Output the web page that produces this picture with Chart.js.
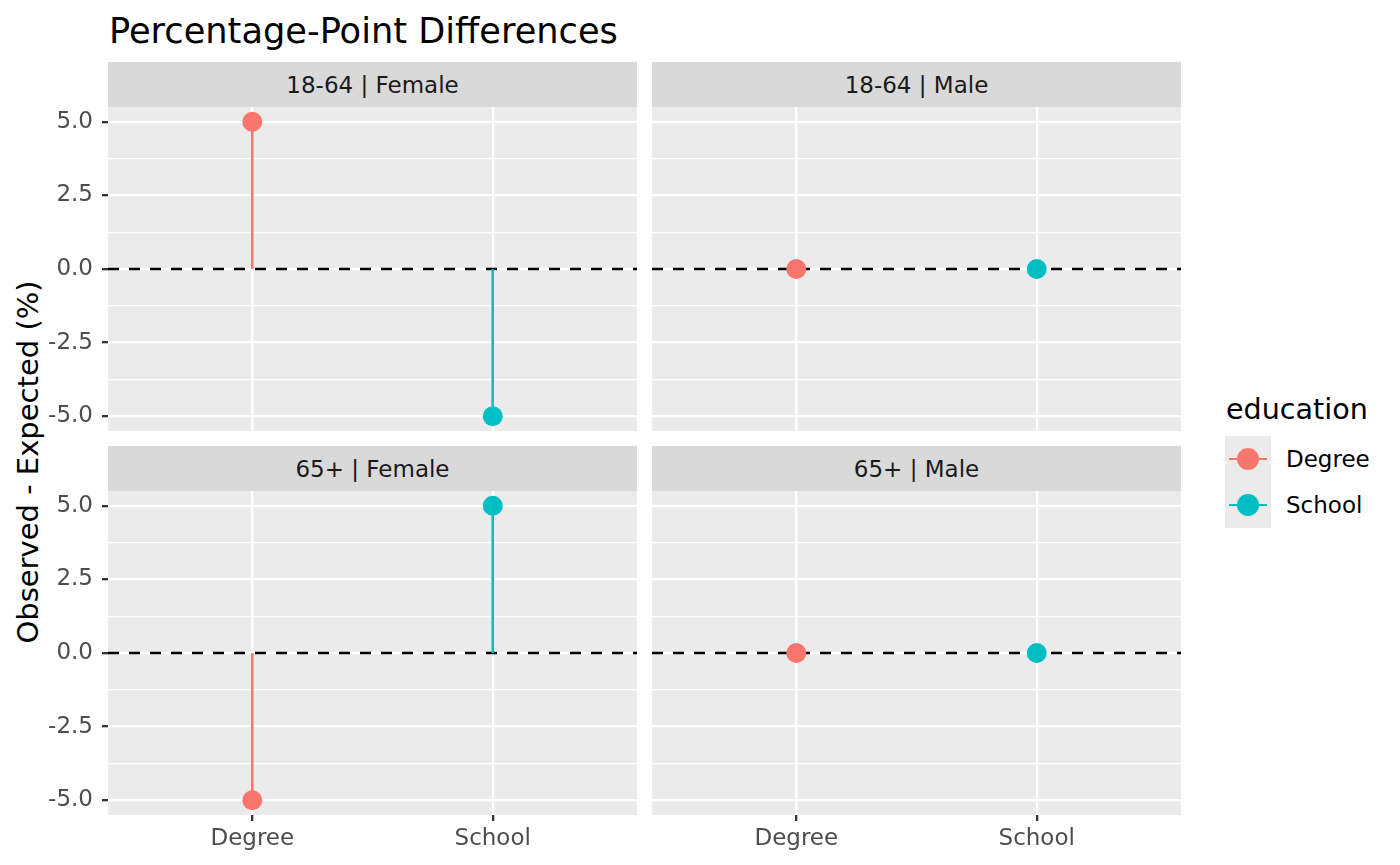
<!DOCTYPE html>
<html>
<head>
<meta charset="utf-8">
<title>Percentage-Point Differences</title>
<script src="https://cdn.jsdelivr.net/npm/chart.js@4.4.1/dist/chart.umd.min.js"></script>
<style>
  body {
    margin: 0;
    width: 1400px;
    height: 865px;
    background: #ffffff;
    position: relative;
    overflow: hidden;
    font-family: "DejaVu Sans", sans-serif;
  }
  .abs { position: absolute; }
  #title {
    left: 109px;
    top: 13px;
    font-size: 35.2px;
    line-height: 1;
    color: #000000;
    white-space: nowrap;
  }
  #ytitle {
    left: 28px;
    top: 462px;
    font-size: 29px;
    line-height: 1;
    color: #000000;
    white-space: nowrap;
    transform: translate(-50%, -50%) rotate(-90deg);
  }
  .strip {
    background: #d9d9d9;
    color: #1a1a1a;
    font-size: 23px;
    display: flex;
    align-items: center;
    justify-content: center;
    white-space: nowrap;
  }
  #legend-title {
    left: 1226px;
    top: 395px;
    font-size: 28.6px;
    line-height: 1;
    color: #000000;
  }
  .key {
    width: 46px;
    height: 46px;
    background: #ebebeb;
  }
  .key .line {
    position: absolute;
    left: 4px;
    top: 21.75px;
    width: 38px;
    height: 2.5px;
  }
  .key .dot {
    position: absolute;
    left: 12px;
    top: 12px;
    width: 22px;
    height: 22px;
    border-radius: 50%;
  }
  .key-label {
    font-size: 23px;
    line-height: 46px;
    color: #000000;
  }
</style>
</head>
<body>
<div id="title" class="abs">Percentage-Point Differences</div>
<div id="ytitle" class="abs">Observed - Expected (%)</div>
<div id="legend-title" class="abs">education</div>

<script>
const categories = ["Degree", "School"];
const ageGroups = ["18-64", "65+"];
const sexes = ["Female", "Male"];

// observed - expected (percentage points), in category order
const female1864 = [5, -5];
const male1864 = [0, 0];
const female65 = [-5, 5];
const male65 = [0, 0];

const yMajor = [-5, -2.5, 0, 2.5, 5];
const yMinor = [-3.75, -1.25, 1.25, 3.75];
const colors = ["#F8766D", "#00BFC4"];

const panels = [
  { age: ageGroups[0], sex: sexes[0], values: female1864, col: 0, row: 0 },
  { age: ageGroups[0], sex: sexes[1], values: male1864, col: 1, row: 0 },
  { age: ageGroups[1], sex: sexes[0], values: female65, col: 0, row: 1 },
  { age: ageGroups[1], sex: sexes[1], values: male65, col: 1, row: 1 },
];

// panel geometry
const colLeft = [108, 652];
const rowTop = [107, 491];
const panelW = 529;
const panelH = 324;
const stripH = 45;
const yAxisW = 108;
const xAxisH = 50;

const tickFont = { family: "DejaVu Sans", size: 23 };

const panelBg = {
  id: "panelBg",
  beforeDraw(chart) {
    const { ctx, chartArea: a } = chart;
    ctx.save();
    ctx.fillStyle = "#ebebeb";
    ctx.fillRect(a.left, a.top, a.right - a.left, a.bottom - a.top);
    ctx.restore();
  },
};

const zeroLine = {
  id: "zeroLine",
  beforeDatasetsDraw(chart) {
    const { ctx, chartArea: a } = chart;
    const y = chart.scales.y.getPixelForValue(0);
    ctx.save();
    ctx.strokeStyle = "#000000";
    ctx.lineWidth = 2.5;
    ctx.setLineDash([11, 10]);
    ctx.beginPath();
    ctx.moveTo(a.left, y);
    ctx.lineTo(a.right, y);
    ctx.stroke();
    ctx.restore();
  },
};

const noPad = (scale) => {
  scale.paddingTop = 0;
  scale.paddingBottom = 0;
  scale.paddingLeft = 0;
  scale.paddingRight = 0;
};

const buildPanel = (p) => {
  const showY = p.col === 0;
  const showX = p.row === 1;

  const strip = document.createElement("div");
  strip.className = "abs strip";
  strip.style.left = colLeft[p.col] + "px";
  strip.style.top = rowTop[p.row] - stripH + "px";
  strip.style.width = panelW + "px";
  strip.style.height = stripH + "px";
  strip.textContent = p.age + " | " + p.sex;
  document.body.appendChild(strip);

  const canvas = document.createElement("canvas");
  const left = showY ? colLeft[p.col] - yAxisW : colLeft[p.col];
  const width = showY ? panelW + yAxisW : panelW;
  const height = showX ? panelH + xAxisH : panelH;
  canvas.className = "abs";
  canvas.style.left = left + "px";
  canvas.style.top = rowTop[p.row] + "px";
  canvas.width = width;
  canvas.height = height;
  canvas.style.width = width + "px";
  canvas.style.height = height + "px";
  document.body.appendChild(canvas);

  const datasets = [];
  p.values.forEach((v, i) => {
    datasets.push({
      data: [{ x: i + 1, y: 0 }, { x: i + 1, y: v }],
      showLine: true,
      borderColor: colors[i],
      borderWidth: 2.5,
      pointRadius: 0,
      pointHoverRadius: 0,
    });
  });
  datasets.push({
    data: p.values.map((v, i) => ({ x: i + 1, y: v })),
    backgroundColor: p.values.map((v, i) => colors[i]),
    borderWidth: 0,
    pointRadius: 10,
    pointHoverRadius: 10,
  });

  new Chart(canvas, {
    type: "scatter",
    data: { datasets: datasets },
    plugins: [panelBg, zeroLine],
    options: {
      responsive: false,
      animation: false,
      devicePixelRatio: 1,
      events: [],
      layout: { padding: 0, autoPadding: false },
      plugins: { legend: { display: false }, tooltip: { enabled: false } },
      scales: {
        x: {
          type: "linear",
          min: 0.4,
          max: 2.6,
          afterBuildTicks: (s) => {
            s.ticks = categories.map((c, i) => ({ value: i + 1 }));
          },
          afterFit: (s) => {
            s.height = showX ? xAxisH : 0;
            noPad(s);
          },
          border: { display: false },
          grid: {
            color: "#ffffff",
            lineWidth: 2.3,
            drawTicks: showX,
            tickLength: 6,
            tickColor: "#333333",
            tickWidth: 2.3,
          },
          ticks: {
            display: showX,
            autoSkip: false,
            maxRotation: 0,
            padding: 4,
            color: "#4d4d4d",
            font: tickFont,
            callback: (v) => categories[v - 1],
          },
        },
        y: {
          type: "linear",
          min: -5.5,
          max: 5.5,
          afterBuildTicks: (s) => {
            s.ticks = yMajor.concat(yMinor).sort((a, b) => a - b).map((v) => ({ value: v }));
          },
          afterFit: (s) => {
            s.width = showY ? yAxisW : 0;
            noPad(s);
          },
          border: { display: false },
          grid: {
            color: "#ffffff",
            lineWidth: (c) => (yMajor.includes(c.tick.value) ? 2.3 : 1.2),
            drawTicks: showY,
            tickLength: 6,
            tickColor: (c) => (yMajor.includes(c.tick.value) ? "#333333" : "rgba(0,0,0,0)"),
            tickWidth: 2.3,
          },
          ticks: {
            display: showY,
            autoSkip: false,
            padding: 9,
            color: "#4d4d4d",
            font: tickFont,
            callback: (v) => (yMajor.includes(v) ? v.toFixed(1) : ""),
          },
        },
      },
    },
  });
};

panels.forEach(buildPanel);

// legend keys
categories.forEach((c, i) => {
  const key = document.createElement("div");
  key.className = "abs key";
  key.style.left = "1225px";
  key.style.top = 436 + i * 46 + "px";
  const line = document.createElement("div");
  line.className = "line";
  line.style.background = colors[i];
  const dot = document.createElement("div");
  dot.className = "dot";
  dot.style.background = colors[i];
  key.appendChild(line);
  key.appendChild(dot);
  document.body.appendChild(key);

  const label = document.createElement("div");
  label.className = "abs key-label";
  label.style.left = "1286px";
  label.style.top = 436 + i * 46 + "px";
  label.textContent = c;
  document.body.appendChild(label);
});
</script>
</body>
</html>
